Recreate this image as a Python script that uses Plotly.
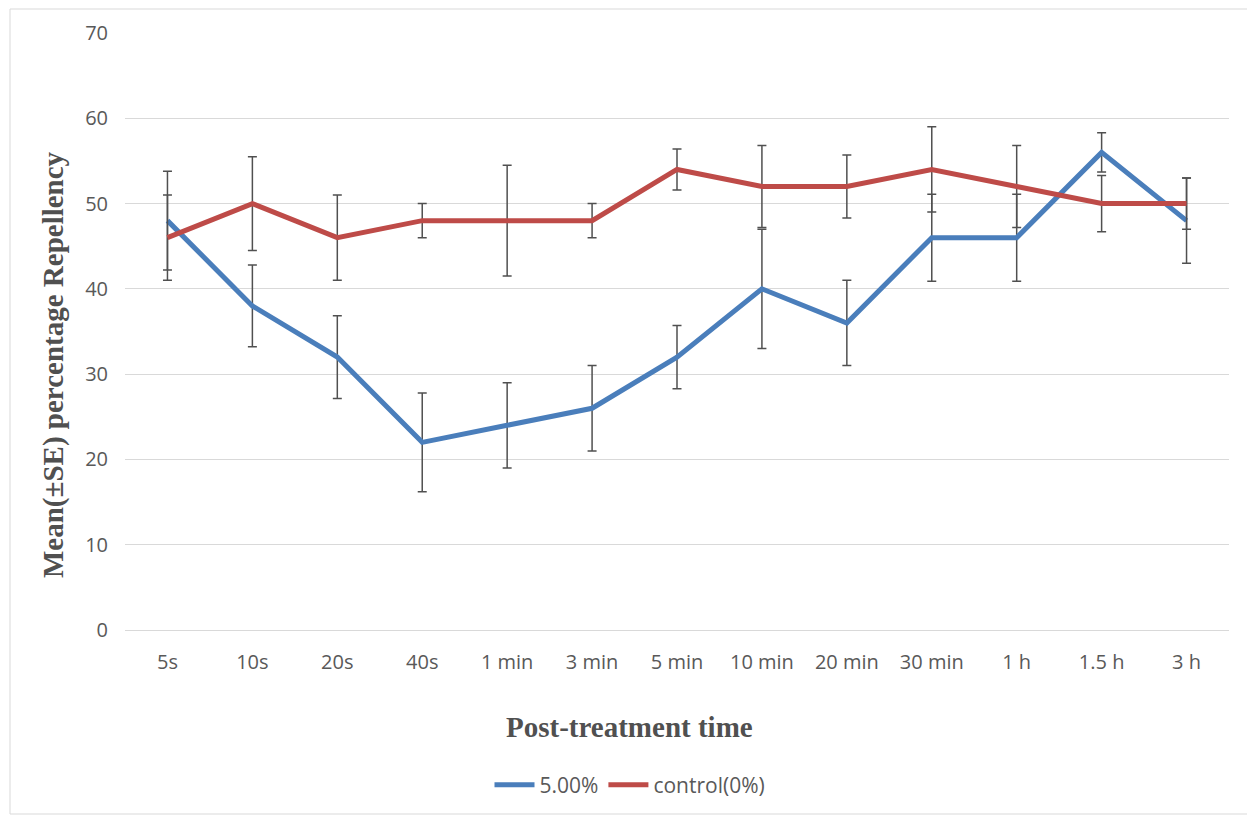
import plotly.graph_objects as go

categories = ["5s", "10s", "20s", "40s", "1 min", "3 min", "5 min", "10 min",
              "20 min", "30 min", "1 h", "1.5 h", "3 h"]
treat_mean = [48, 38, 32, 22, 24, 26, 32, 40, 36, 46, 46, 56, 48]
treat_se = [5.8, 4.8, 4.85, 5.8, 5.0, 5.0, 3.7, 7.0, 5.0, 5.1, 5.1, 2.3, 5.0]
control_mean = [46, 50, 46, 48, 48, 48, 54, 52, 52, 54, 52, 50, 50]
control_se = [5.0, 5.5, 5.0, 2.0, 6.5, 2.0, 2.4, 4.8, 3.7, 5.0, 4.8, 3.3, 3.0]
y_ticks = [0, 10, 20, 30, 40, 50, 60, 70]

BLUE = "#4A7EBB"
RED = "#BE4B48"
ERR = "#505050"
TXT = "#595959"

# page body has an 8px offset, compensate in margins
OFF = 8
L, T = 125 - OFF, 33 - OFF
PW, PH = 1104, 597

fig = go.Figure()
fig.add_trace(go.Scatter(
    x=categories, y=treat_mean, mode="lines", name="5.00%",
    line=dict(color=BLUE, width=5),
    error_y=dict(type="data", array=treat_se, visible=True,
                 color=ERR, thickness=1.5, width=4.5),
))
fig.add_trace(go.Scatter(
    x=categories, y=control_mean, mode="lines", name="control(0%)",
    line=dict(color=RED, width=5),
    error_y=dict(type="data", array=control_se, visible=True,
                 color=ERR, thickness=1.5, width=4.5),
))

W, H = 1255, 818
fig.update_layout(
    width=W, height=H,
    margin=dict(l=L, r=W - L - PW, t=T, b=H - T - PH),
    paper_bgcolor="white", plot_bgcolor="white",
    font=dict(family="Open Sans", size=20, color=TXT),
    showlegend=True,
    legend=dict(orientation="h", x=(630 - 125) / PW, xanchor="center",
                y=(630 - 785) / PH, yanchor="middle",
                font=dict(family="Open Sans", size=21, color=TXT),
                itemwidth=40, tracegroupgap=0),
    xaxis=dict(type="category", categoryorder="array", categoryarray=categories,
               range=[-0.5, len(categories) - 0.5],
               showgrid=False, showline=True, linecolor="#d9d9d9", linewidth=1,
               ticks="outside", ticklen=14, tickcolor="rgba(0,0,0,0)",
               tickfont=dict(family="Open Sans", size=20, color=TXT)),
    yaxis=dict(range=[0, 70], tickvals=y_ticks,
               showgrid=True, gridcolor="#d9d9d9", gridwidth=1,
               zeroline=True, zerolinecolor="#d9d9d9",
               showline=False,
               ticks="outside", ticklen=12, tickcolor="rgba(0,0,0,0)",
               tickfont=dict(family="Open Sans", size=20, color=TXT)),
)

fig.add_annotation(text="<b>Post-treatment time</b>", xref="paper", yref="paper",
                   x=(629 - 125) / PW, y=(630 - 727) / PH,
                   xanchor="center", yanchor="middle", showarrow=False,
                   font=dict(family="Liberation Serif", size=29, color="#505050"))
fig.add_annotation(text="<b>Mean(±SE) percentage Repellency</b>", xref="paper", yref="paper",
                   x=(53 - 125) / PW, y=(630 - 365) / PH, textangle=-90,
                   xanchor="center", yanchor="middle", showarrow=False,
                   font=dict(family="Liberation Serif", size=29, color="#505050"))

fig.add_shape(type="rect", xref="paper", yref="paper",
              x0=(10 - 125) / PW, x1=(1251 - 125) / PW,
              y0=(630 - 814) / PH, y1=(630 - 9) / PH,
              line=dict(color="#d9d9d9", width=1), fillcolor="rgba(0,0,0,0)",
              layer="below")

fig.write_html("out.html")
